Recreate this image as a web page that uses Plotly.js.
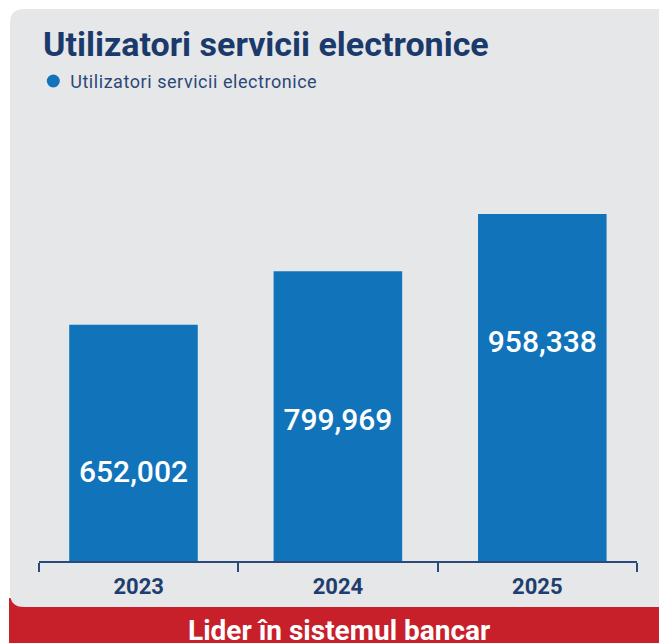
<!DOCTYPE html>
<html>
<head>
<meta charset="utf-8">
<script src="https://cdn.plot.ly/plotly-3.0.1.min.js"></script>
<style>
  html, body { margin: 0; padding: 0; background: #ffffff; }
  #chart { width: 659px; height: 643px; }
  .annotation[data-index="0"] text { letter-spacing: 0.55px; }
</style>
</head>
<body>
<div id="chart"></div>
<script>
// ---- data ----
const categories = ["2023", "2024", "2025"];
const values = [652002, 799969, 958338];
const seriesName = "Utilizatori servicii electronice";
const chartTitle = "Utilizatori servicii electronice";
const footerText = "Lider în sistemul bancar";

// ---- layout helpers (pixel -> paper) ----
const W = 659, H = 643;
const M = { l: 39, r: 22, t: 110, b: 82 };
const PW = W - M.l - M.r, PH = H - M.t - M.b;
const X = px => (px - M.l) / PW;
const Y = py => (H - M.b - py) / PH;

const navy = "#1b3a6c";
const blue = "#1174bb";
const grey = "#e6e7e9";
const red = "#c8202a";

// label vertical placement within bars (fraction of bar height)
const labelFrac = [0.366, 0.477, 0.6225];
const labelY = values.map((v, i) => v * labelFrac[i]);
const fmt = v => v.toLocaleString("en-US");

const r = 14;
const panelPath =
  `M ${X(10)} ${Y(9 + r)} Q ${X(10)} ${Y(9)} ${X(10 + r)} ${Y(9)} ` +
  `L ${X(700)} ${Y(9)} L ${X(700)} ${Y(607)} L ${X(10 + r)} ${Y(607)} ` +
  `Q ${X(10)} ${Y(607)} ${X(10)} ${Y(607 - r)} Z`;

const traces = [
  {
    type: "bar",
    name: seriesName,
    x: categories,
    y: values,
    width: 0.629,
    marker: { color: blue, line: { width: 0 } },
    hoverinfo: "x+y",
    showlegend: false,
    xaxis: "x", yaxis: "y"
  },
  {
    type: "scatter",
    mode: "text",
    x: categories,
    y: labelY,
    text: values.map(fmt),
    textposition: "middle center",
    textfont: { family: "Roboto", size: 30, weight: 500, color: "#ffffff" },
    hoverinfo: "skip",
    showlegend: false,
    xaxis: "x", yaxis: "y"
  },
  {
    type: "scatter",
    mode: "markers",
    x: categories,
    y: [0, 0, 0],
    marker: { opacity: 0, size: 1 },
    hoverinfo: "skip",
    showlegend: false,
    xaxis: "x2", yaxis: "y"
  }
];

const layout = {
  width: W, height: H,
  margin: M,
  paper_bgcolor: "#ffffff",
  plot_bgcolor: "rgba(0,0,0,0)",
  font: { family: "Roboto", color: navy },
  showlegend: false,
  title: {
    text: chartTitle,
    font: { family: "Roboto", size: 34, weight: 700, color: navy },
    xref: "container", x: 43 / W, xanchor: "left",
    yref: "container", y: 1 - 44 / H, yanchor: "middle"
  },
  xaxis: {
    type: "category",
    range: [-0.4623, 2.4633],
    visible: false,
    fixedrange: true
  },
  xaxis2: {
    type: "category",
    overlaying: "x",
    anchor: "y",
    range: [-0.5, 2.5],
    showgrid: false,
    zeroline: false,
    showline: true,
    linecolor: "#2b4a7c",
    linewidth: 1.5,
    ticks: "outside",
    tickson: "boundaries",
    ticklen: 9,
    tickwidth: 1.5,
    tickcolor: "#2b4a7c",
    ticklabelstandoff: 5,
    tickfont: { family: "Roboto", size: 22, weight: 700, color: "#1e3e70" },
    fixedrange: true
  },
  yaxis: {
    range: [0, 1245200],
    visible: false,
    fixedrange: true
  },
  shapes: [
    {
      type: "rect", xref: "paper", yref: "paper", layer: "below",
      x0: X(9), x1: X(700), y0: Y(598), y1: Y(680),
      fillcolor: red, line: { width: 0 }
    },
    {
      type: "path", xref: "paper", yref: "paper", layer: "below",
      path: panelPath, fillcolor: grey, line: { width: 0 }
    },
    {
      type: "circle", xref: "paper", yref: "paper",
      xsizemode: "pixel", ysizemode: "pixel",
      xanchor: X(53.3), yanchor: Y(81),
      x0: -6.5, x1: 6.5, y0: -6.5, y1: 6.5,
      fillcolor: blue, line: { width: 0 }
    }
  ],
  annotations: [
    {
      text: seriesName, xref: "paper", yref: "paper",
      x: X(76.5), y: Y(81), xanchor: "left", yanchor: "middle",
      showarrow: false,
      font: { family: "Roboto", size: 18, color: "#2b4878" }
    },
    {
      text: footerText, xref: "paper", yref: "paper",
      x: X(339), y: Y(630), xanchor: "center", yanchor: "middle",
      showarrow: false,
      font: { family: "Roboto", size: 28, weight: 700, color: "#ffffff" }
    }
  ]
};

Plotly.newPlot("chart", traces, layout, { displayModeBar: false, responsive: false });
</script>
</body>
</html>
